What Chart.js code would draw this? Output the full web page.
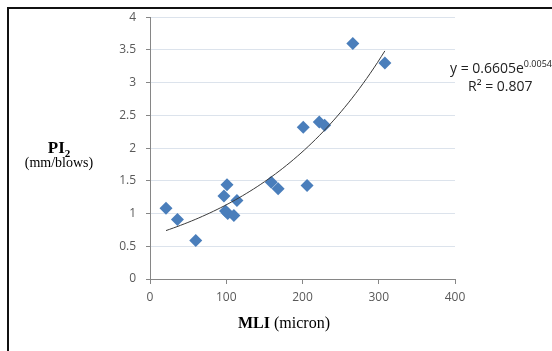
<!DOCTYPE html>
<html>
<head>
<meta charset="utf-8">
<script src="https://cdn.jsdelivr.net/npm/chart.js@4/dist/chart.umd.min.js"></script>
<style>
  html, body { margin: 0; padding: 0; background: #fff; overflow: hidden; }
  #wrap { position: relative; width: 552px; height: 351px; overflow: hidden; }
  #marco { position: absolute; left: 7px; top: 7px; right: -4px; bottom: -4px;
           border-top: 2px solid #111; border-left: 2px solid #111; }
  canvas { position: absolute; left: 0; top: 0; }
  .titulo { position: absolute; font-family: "Liberation Serif", "Times New Roman", serif; color: #000;
            white-space: nowrap; line-height: 1; }
  #ecuacion { position: absolute; left: 450px; top: 59px; font-family: "Open Sans", "Noto Sans", sans-serif;
              font-size: 14px; color: #222; white-space: nowrap; line-height: 18px; }
  #ecuacion sup { font-size: 9px; vertical-align: 6px; line-height: 0; }
</style>
</head>
<body>
<div id="wrap">
  <div id="marco"></div>
  <canvas id="grafico" width="552" height="351"></canvas>
  <div class="titulo" style="left:59px; top:139px; transform:translateX(-50%); font-size:17px; font-weight:bold;">PI<span style="font-size:11px; position:relative; top:4px;">2</span></div>
  <div class="titulo" style="left:59px; top:156px; transform:translateX(-50%); font-size:14px;">(mm/blows)</div>
  <div class="titulo" style="left:238px; top:315px; font-size:16px;"><b>MLI</b> (micron)</div>
  <div id="ecuacion"></div>
</div>
<script>
// Puntos medidos: MLI (micron) frente a PI2 (mm/blows)
const mli = [21, 36, 60, 97, 101, 99, 102, 110, 114, 159, 168, 201, 206, 222, 229, 266, 308];
const pi2 = [1.08, 0.91, 0.59, 1.27, 1.44, 1.04, 1.00, 0.97, 1.20, 1.48, 1.38, 2.32, 1.43, 2.40, 2.35, 3.60, 3.30];

// Ajuste exponencial y = a·e^(b·x) y su R²
const coefA = 0.6605;
const coefB = 0.0054;
const r2 = 0.807;

// Marcas de los ejes
const ticksX = [0, 100, 200, 300, 400];
const ticksY = [0, 0.5, 1, 1.5, 2, 2.5, 3, 3.5, 4];

const puntos = mli.map((x, i) => ({ x: x, y: pi2[i] }));

// Curva de tendencia entre el menor y el mayor MLI
const xMin = Math.min(...mli), xMax = Math.max(...mli);
const tendencia = [];
for (let k = 0; k <= 60; k++) {
    const x = xMin + (xMax - xMin) * k / 60;
    tendencia.push({ x: x, y: coefA * Math.exp(coefB * x) });
}

document.getElementById('ecuacion').innerHTML =
    'y = ' + coefA + 'e<sup>' + coefB + 'x</sup><br>' +
    '<span style="padding-left:18px">R² = ' + r2 + '</span>';

const gris = '#868686';
const fuenteTicks = { family: '"Open Sans", "Noto Sans", sans-serif', size: 12 };

new Chart(document.getElementById('grafico'), {
    type: 'scatter',
    data: {
        datasets: [{
            data: puntos,
            pointStyle: 'rectRot',
            pointRadius: 6.5,
            pointHoverRadius: 6.5,
            backgroundColor: '#4A7EBB',
            borderColor: '#4A7EBB',
            borderWidth: 0,
            order: 2
        }, {
            type: 'line',
            data: tendencia,
            borderColor: '#3a3a3a',
            borderWidth: 1,
            pointRadius: 0,
            fill: false,
            tension: 0,
            order: 1
        }]
    },
    options: {
        responsive: false,
        animation: false,
        devicePixelRatio: 1,
        layout: { padding: { left: 0, top: 17, right: 97, bottom: 0 } },
        plugins: { legend: { display: false }, tooltip: { enabled: false } },
        scales: {
            x: {
                type: 'linear',
                min: 0,
                max: 400,
                afterBuildTicks: s => { s.ticks = ticksX.map(v => ({ value: v })); },
                afterFit: s => { s.height = 72; },
                grid: { drawOnChartArea: false, color: gris, tickLength: 5 },
                border: { color: gris },
                ticks: { color: '#595959', font: fuenteTicks, padding: 6, maxRotation: 0,
                         callback: v => String(v) }
            },
            y: {
                type: 'linear',
                min: 0,
                max: 4,
                afterBuildTicks: s => { s.ticks = ticksY.map(v => ({ value: v })); },
                afterFit: s => { s.width = 150; },
                grid: { color: '#dce3ec', tickColor: gris, tickLength: 4 },
                border: { color: gris },
                ticks: { color: '#595959', font: fuenteTicks, padding: 10,
                         callback: v => String(v) }
            }
        }
    }
});
</script>
</body>
</html>
